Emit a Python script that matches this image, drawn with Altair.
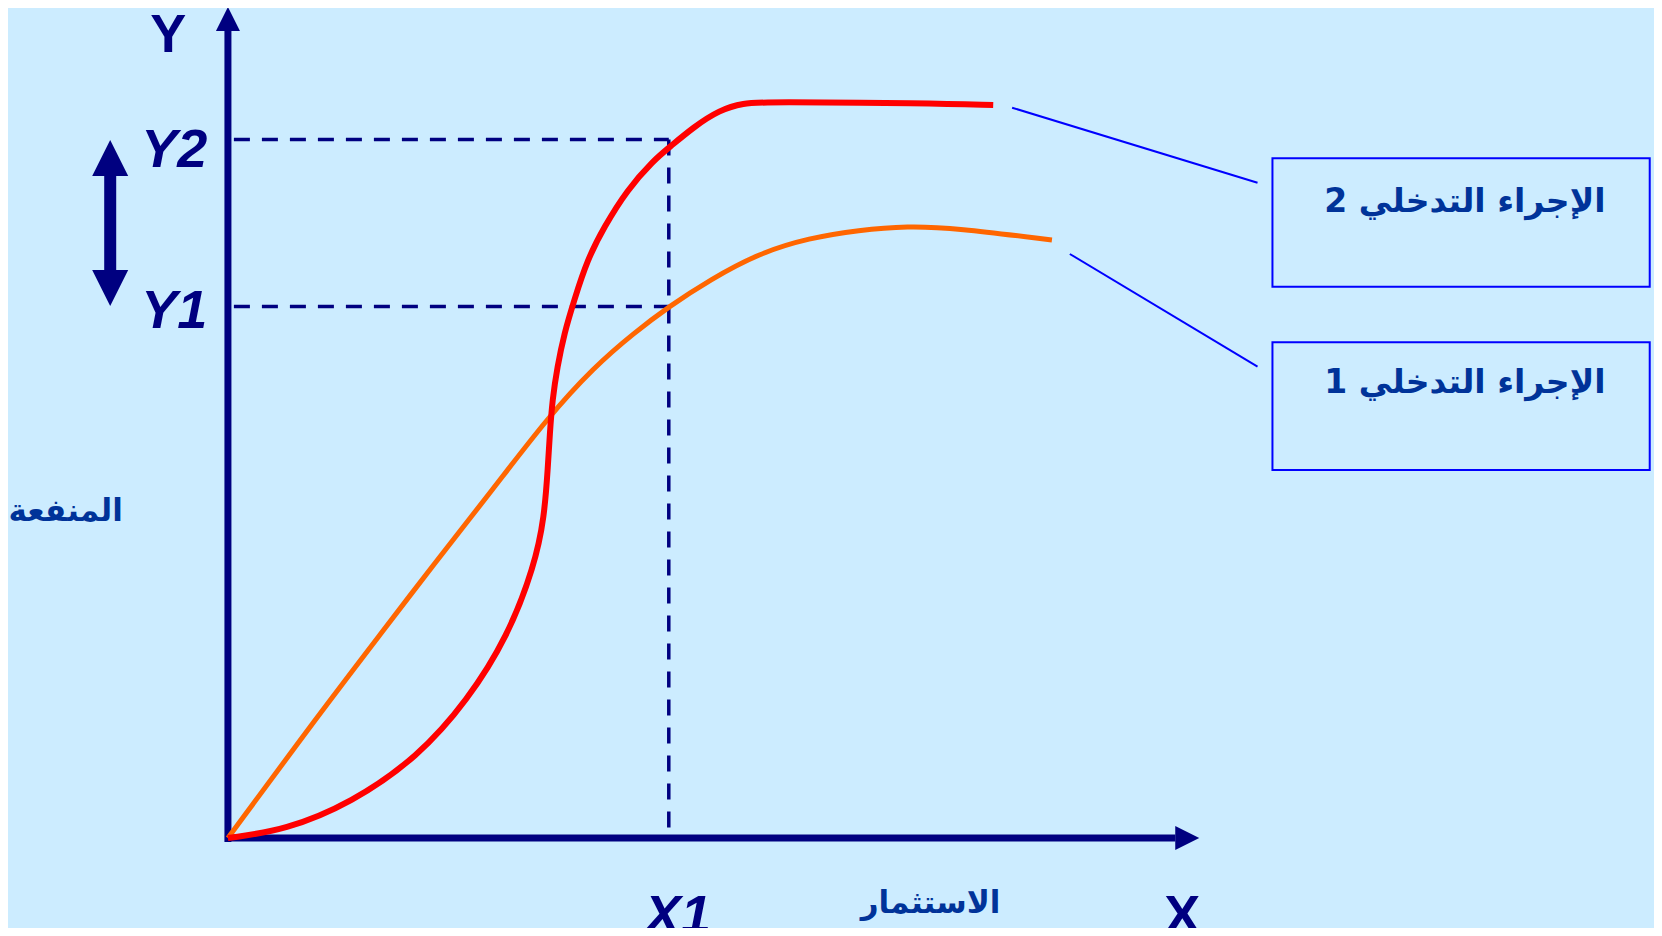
import altair as alt
import pandas as pd

# ---- data (units: offset from the axes origin) ----
red_x = [0, 58, 124, 191, 241, 281, 308, 318, 321.5, 323.5, 326, 331, 338, 348, 361, 378, 401, 428, 444,
         468, 494, 518, 541, 701, 769]
red_y = [0, 8, 35, 81, 138, 201, 272, 321, 371, 405, 438, 471, 505, 538, 578, 611, 648, 678, 691,
         711, 728, 735, 736, 735, 733]

orange_x = [0, 91, 158, 204, 268, 321, 368, 408, 444, 484, 534, 584, 634, 683, 731, 828]
orange_y = [0, 123, 210, 270, 351, 420, 471, 505, 532, 558, 585, 600, 608, 612, 610, 598]

y1_level = 531.5
y2_level = 698.5
x1_level = 443

# axes
axis_x_end = 964
axis_y_end = 810

# connectors (x, y, x2, y2)
conn_x = [788, 846]
conn_y = [730.3, 584]
conn_x2 = [1034.6, 1034.6]
conn_y2 = [655.3, 471.3]

# legend boxes
box_x = [1049.6, 1049.6]
box_x2 = [1428.7, 1428.7]
box_y = [679.7, 495.7]
box_y2 = [551.3, 368]
box_labels = ["2 الإجراء التدخلي", "1 الإجراء التدخلي"]
box_label_y = [626, 445]

XD = [-221, 1433]
YD = [-90, 830]
W, H = 1646, 920

NAVY = "#000080"
TXT = "#003399"

def X(field="x"):
    return alt.X(f"{field}:Q", scale=alt.Scale(domain=XD, nice=False, zero=False), axis=None)

def Y(field="y"):
    return alt.Y(f"{field}:Q", scale=alt.Scale(domain=YD, nice=False, zero=False), axis=None)

red_df = pd.DataFrame({"x": red_x, "y": red_y, "i": range(len(red_x))})
orange_df = pd.DataFrame({"x": orange_x, "y": orange_y, "i": range(len(orange_x))})

red = alt.Chart(red_df).mark_line(color="#FF0000", strokeWidth=6, interpolate="basis").encode(
    x=X(), y=Y(), order="i:Q")
orange = alt.Chart(orange_df).mark_line(color="#FF6600", strokeWidth=5, interpolate="basis").encode(
    x=X(), y=Y(), order="i:Q")

dash_df = pd.DataFrame({
    "x": [6, 6, x1_level],
    "x2": [x1_level, x1_level, x1_level],
    "y": [y2_level, y1_level, y2_level],
    "y2": [y2_level, y1_level, 0],
})
dashes = alt.Chart(dash_df).mark_rule(color=NAVY, strokeWidth=3.5, strokeDash=[16, 12]).encode(
    x=X(), x2="x2:Q", y=Y(), y2="y2:Q")

axes_df = pd.DataFrame({
    "x": [-3, 0], "x2": [axis_x_end - 12, 0],
    "y": [0, -4], "y2": [0, axis_y_end],
})
axes = alt.Chart(axes_df).mark_rule(color=NAVY, strokeWidth=7).encode(
    x=X(), x2="x2:Q", y=Y(), y2="y2:Q")

heads_df = pd.DataFrame({
    "x": [0, axis_x_end, -118.3, -118.3],
    "y": [axis_y_end + 9, 0, 680, 550],
    "shape": ["M0,-1L1,1L-1,1Z", "M1,0L-1,-1L-1,1Z", "M0,-1L1,1L-1,1Z", "M0,1L1,-1L-1,-1Z"],
    "size": [576, 576, 1296, 1296],
})
heads = alt.Chart(heads_df).mark_point(filled=True, color=NAVY, opacity=1, strokeWidth=0).encode(
    x=X(), y=Y(),
    shape=alt.Shape("shape:N", scale=None),
    size=alt.Size("size:Q", scale=None))

shaft_df = pd.DataFrame({"x": [-118.3], "y": [668], "y2": [562]})
shaft = alt.Chart(shaft_df).mark_rule(color=NAVY, strokeWidth=12).encode(x=X(), y=Y(), y2="y2:Q")

conn_df = pd.DataFrame({"x": conn_x, "y": conn_y, "x2": conn_x2, "y2": conn_y2})
conns = alt.Chart(conn_df).mark_rule(color="#0000FF", strokeWidth=2).encode(
    x=X(), x2="x2:Q", y=Y(), y2="y2:Q")

box_df = pd.DataFrame({"x": box_x, "x2": box_x2, "y": box_y, "y2": box_y2})
boxes = alt.Chart(box_df).mark_rect(fill=None, stroke="#0000FF", strokeWidth=2, fillOpacity=0).encode(
    x=X(), x2="x2:Q", y=Y(), y2="y2:Q")

box_txt_df = pd.DataFrame({"x": [1243, 1243], "y": box_label_y, "t": box_labels})
box_txt = alt.Chart(box_txt_df).mark_text(font="DejaVu Sans", fontSize=33, fontWeight="bold",
                                          color=TXT, align="center", baseline="alphabetic").encode(
    x=X(), y=Y(), text="t:N")

lbl_df = pd.DataFrame({"x": [-60], "y": [786], "t": ["Y"]})
lbl_y = alt.Chart(lbl_df).mark_text(font="Liberation Sans", fontSize=54, fontWeight="bold",
                                     color=NAVY, align="center", baseline="alphabetic").encode(
    x=X(), y=Y(), text="t:N")

ital_df = pd.DataFrame({"x": [-54, -54, 452, 959], "y": [671, 510, -95, -95], "t": ["Y2", "Y1", "X1", "X"],
                        "st": ["italic", "italic", "italic", "normal"]})
ital = alt.Chart(ital_df[ital_df.st == "italic"]).mark_text(
    font="Liberation Sans", fontSize=54, fontWeight="bold", fontStyle="italic",
    color=NAVY, align="center", baseline="alphabetic").encode(x=X(), y=Y(), text="t:N")
plain = alt.Chart(ital_df[ital_df.st == "normal"]).mark_text(
    font="Liberation Sans", fontSize=54, fontWeight="bold",
    color=NAVY, align="center", baseline="alphabetic").encode(x=X(), y=Y(), text="t:N")

ar_df = pd.DataFrame({"x": [706, -163], "y": [-66, 326], "t": ["الاستثمار", "المنفعة"]})
ar = alt.Chart(ar_df).mark_text(font="DejaVu Sans", fontSize=31, fontWeight="bold",
                                 color=TXT, align="center", baseline="middle").encode(
    x=X(), y=Y(), text="t:N")

chart = alt.layer(
    dashes, axes, heads, shaft, orange, red, conns, boxes, box_txt, lbl_y, ital, plain, ar
).properties(
    width=W, height=H, background="#CCECFF", padding=0,
    autosize=alt.AutoSizeParams(type="none"),
).configure_view(stroke=None)

chart.save("out.html", embed_options={"renderer": "svg", "actions": False})
